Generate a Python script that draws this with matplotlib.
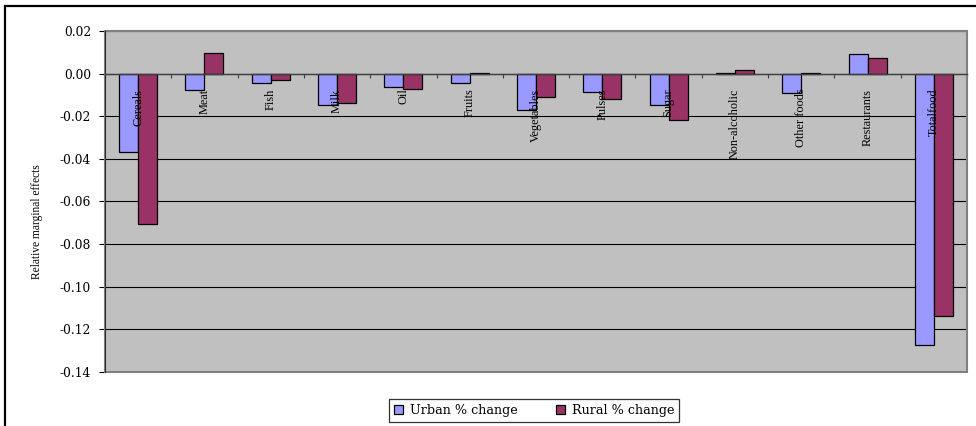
import numpy as np
import matplotlib
matplotlib.use('Agg')
import matplotlib.pyplot as plt
from matplotlib.patches import Patch, Rectangle

categories = ['Cereals', 'Meat', 'Fish', 'Milk', 'Oil', 'Fruits', 'Vegetables',
              'Pulses', 'Sugar', 'Non-alcoholic', 'Other foods', 'Restaurants',
              'Totalfood']
urban = [-0.0368, -0.0077, -0.0046, -0.0149, -0.0064, -0.0046, -0.0171,
         -0.0085, -0.0149, 0.0003, -0.0093, 0.0092, -0.1274]
rural = [-0.0706, 0.0098, -0.0029, -0.0139, -0.0074, 0.0005, -0.0108,
         -0.0121, -0.0218, 0.0017, 0.0004, 0.0075, -0.1138]
yticks = [0.02, 0.00, -0.02, -0.04, -0.06, -0.08, -0.10, -0.12, -0.14]

urban_col = '#9999FF'
rural_col = '#993366'

W, H = 976, 426
fig = plt.figure(figsize=(W / 100, H / 100), dpi=100)
ax = fig.add_axes([105 / W, 1 - 372 / H, (967 - 105) / W, (372 - 31) / H])
ax.set_facecolor('#C0C0C0')

x = np.arange(len(categories))
w = 0.286
ax.bar(x - w / 2, urban, w, color=urban_col, edgecolor='black', linewidth=0.9, zorder=2)
ax.bar(x + w / 2, rural, w, color=rural_col, edgecolor='black', linewidth=0.9, zorder=2)

ax.set_xlim(-0.5, len(categories) - 0.5)
ax.set_ylim(-0.14, 0.02)
ax.set_yticks(yticks)
ax.set_yticklabels(['%.2f' % v for v in yticks], family='DejaVu Serif', fontsize=8.8)
ax.tick_params(axis='y', direction='out', length=4, width=0.8, pad=6)

ax.set_axisbelow(True)
ax.yaxis.grid(True, color='black', linewidth=0.8)

# category axis sits on the zero line
ax.spines['bottom'].set_position(('data', 0))
ax.spines['bottom'].set_color('#404040')
ax.spines['bottom'].set_linewidth(1.0)
ax.set_xticks([])
ax.set_xticks(np.arange(-0.5, len(categories), 1), minor=True)
ax.tick_params(axis='x', which='minor', direction='out', length=3, width=0.8, color='#404040')
for s in ['top', 'right']:
    ax.spines[s].set_visible(False)
ax.spines['left'].set_color('#303030')
ax.add_patch(Rectangle((0, 0), 1, 1, transform=ax.transAxes, fill=False,
                       edgecolor='#808080', linewidth=1.5, zorder=0.8, clip_on=False))

for i, name in enumerate(categories):
    ax.annotate(name, xy=(i, 0), xytext=(0, -15), textcoords='offset pixels',
                rotation=90, ha='center', va='top', family='Liberation Serif',
                fontsize=8.8, zorder=5)

fig.text(37 / W, 1 - 222 / H, 'Relative marginal effects', rotation=90,
         ha='center', va='center', family='Liberation Serif', fontsize=8.3)

handles = [Patch(facecolor=urban_col, edgecolor='black', linewidth=0.9),
           Patch(facecolor=rural_col, edgecolor='black', linewidth=0.9)]
leg = fig.legend(handles, ['Urban % change', 'Rural % change'], ncol=2,
                 loc='center', bbox_to_anchor=(534 / W, 1 - 410.5 / H),
                 prop={'family': 'DejaVu Serif', 'size': 9.2}, frameon=True,
                 fancybox=False, handlelength=0.75, handleheight=0.75,
                 handletextpad=0.5, columnspacing=3.0, borderpad=0.4)
leg.get_frame().set_edgecolor('black')
leg.get_frame().set_linewidth(0.9)

# chart border, only its top and left edges fall inside the image
fig.patches.append(Rectangle((5 / W, -0.5), 2.0, 1.5 - 6 / H, transform=fig.transFigure,
                             fill=False, edgecolor='black', linewidth=1.6))

fig.savefig('out.png', dpi=100)
